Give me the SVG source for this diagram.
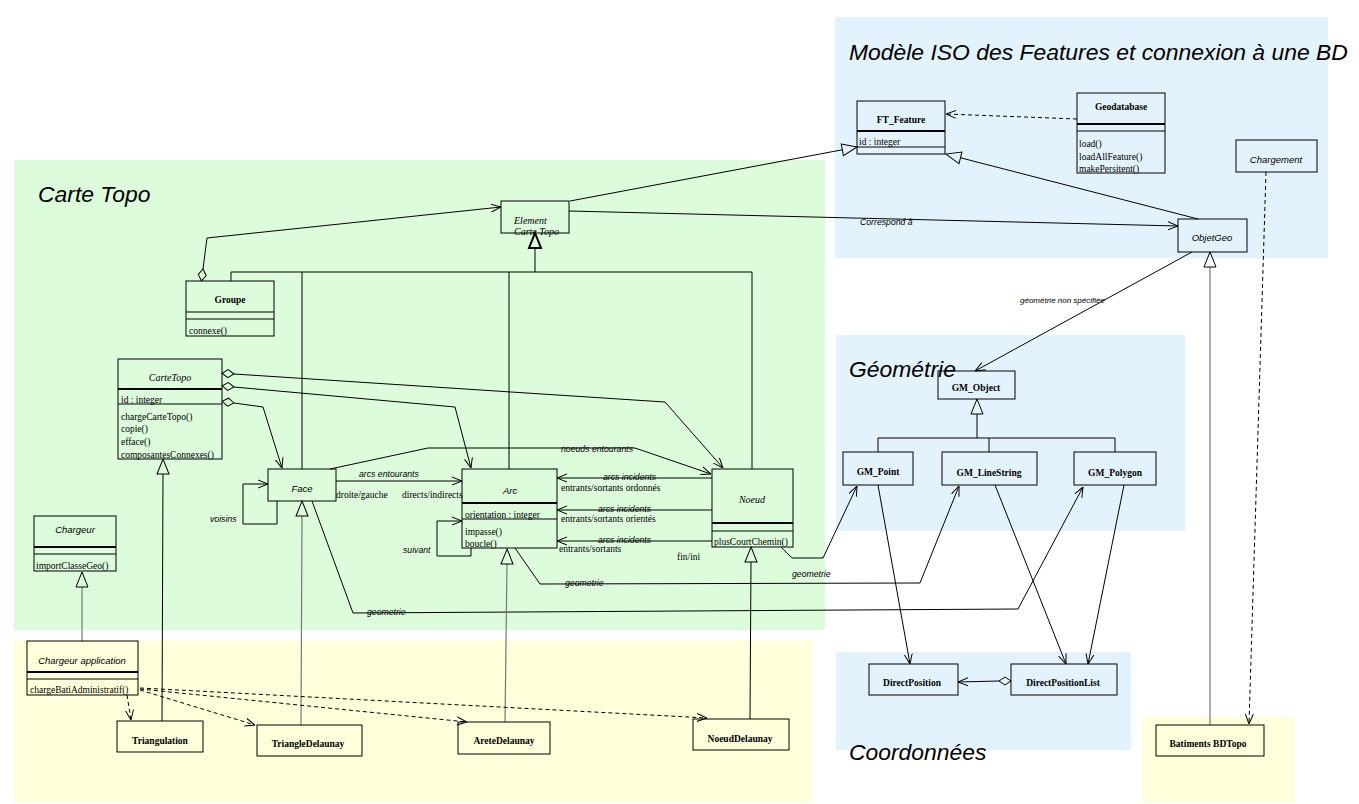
<svg xmlns="http://www.w3.org/2000/svg" width="1359" height="804" viewBox="0 0 1359 804">
<style>
.box{fill:none;stroke:#000;stroke-width:1}
.thk{stroke:#000;stroke-width:2}
.thn{stroke:#000;stroke-width:1}
.n{font-family:"Liberation Serif",serif;font-size:9.5px;font-weight:bold;text-anchor:middle;fill:#000}
.ni{font-family:"Liberation Serif",serif;font-size:10px;font-style:italic;text-anchor:middle;fill:#000}
.ns{font-family:"Liberation Sans",sans-serif;font-size:9.5px;font-style:italic;text-anchor:middle;fill:#000}
.t{font-family:"Liberation Serif",serif;font-size:9.5px;fill:#000}
.l{font-family:"Liberation Sans",sans-serif;font-size:8.7px;font-style:italic;fill:#000}
.title{font-family:"Liberation Sans",sans-serif;font-size:22.9px;font-style:italic;fill:#000}
.c{fill:none;stroke:#000;stroke-width:1}
.g{fill:none;stroke:#777;stroke-width:1.2}
.d{fill:none;stroke:#000;stroke-width:1;stroke-dasharray:4,3}
</style>
<defs>
<marker id="arr" viewBox="0 0 10 10" refX="10" refY="5" markerWidth="10" markerHeight="10" markerUnits="userSpaceOnUse" orient="auto">
<path d="M0,1 L10,5 L0,9" fill="none" stroke="#000" stroke-width="1"/>
</marker>
<marker id="gen" viewBox="-1 -8 18 16" refX="0" refY="0" markerWidth="18" markerHeight="16" markerUnits="userSpaceOnUse" orient="auto">
<path d="M0,-6 L15,0 L0,6 Z" fill="none" stroke="#000" stroke-width="1"/>
</marker>
<marker id="dia" viewBox="-14 -6 15 12" refX="0" refY="0" markerWidth="15" markerHeight="12" markerUnits="userSpaceOnUse" orient="auto">
<path d="M0,0 L-6,-4 L-12,0 L-6,4 Z" fill="none" stroke="#000" stroke-width="1"/>
</marker>
</defs>
<rect width="1359" height="804" fill="#fff"/>
<g id="regions">
<rect x="835" y="17" width="493" height="241" fill="#e3f3fd"/>
<rect x="14" y="160" width="811" height="470" fill="#dcfcdc"/>
<rect x="836" y="335" width="349" height="196" fill="#e3f3fd"/>
<rect x="836" y="652" width="295" height="98" fill="#e3f3fd"/>
<rect x="14" y="640" width="798" height="162" fill="#ffffdc"/>
<rect x="1142" y="717" width="153" height="85" fill="#ffffdc"/>
<text class="title" x="849" y="60">Modèle ISO des Features et connexion à une BD</text>
<text class="title" x="38" y="202">Carte Topo</text>
<text class="title" x="849" y="377">Géométrie</text>
<text class="title" x="849" y="760">Coordonnées</text>
</g>
<g id="connectors">
<path class="d" d="M1077,119 L946,114" marker-end="url(#arr)"/>
<path class="c" d="M1198,219 L960.5,157.8" marker-end="url(#gen)"/>
<path class="c" d="M570,201 L842.3,149.8" marker-end="url(#gen)"/>
<path class="c" d="M569,211 L1178,226" marker-end="url(#arr)"/>
<path class="d" d="M1266,172 L1249,724" marker-end="url(#arr)"/>
<path class="g" d="M1210,725 L1210,267" marker-end="url(#gen)"/>
<path class="c" d="M1192,252 L975,371" marker-end="url(#arr)"/>
<path class="c" d="M977,414 L977,438 M878,438 L1115,438 M878,438 L878,452 M989,438 L989,452 M1115,438 L1115,452"/>
<polygon points="977,399 971,414 983,414" fill="none" stroke="#000"/>
<path class="c" d="M878,485 L910,664" marker-end="url(#arr)"/>
<path class="c" d="M995,485 L1066,664" marker-end="url(#arr)"/>
<path class="c" d="M1124,485 L1088,664" marker-end="url(#arr)"/>
<path class="c" d="M999,681 L958,682" marker-end="url(#arr)"/>
<polygon points="1011,681 1005,677 999,681 1005,685" fill="none" stroke="#000"/>
<polygon points="535,233 529,248 541,248" fill="none" stroke="#000" stroke-width="2"/>
<path class="c" d="M535,248 L535,272" stroke-width="2.5"/>
<path class="c" d="M231,272 L752,272 M231,272 L231,281 M302,272 L302,469 M509,272 L509,469 M752,272 L752,469"/>
<path class="c" d="M203,269 L207,238 L501,207" marker-start="url(#dia)" marker-end="url(#arr)"/>
<path class="c" d="M234,374 L665,402 L723,468" marker-start="url(#dia)" marker-end="url(#arr)"/>
<path class="c" d="M234,387 L455,407 L471,468" marker-start="url(#dia)" marker-end="url(#arr)"/>
<path class="c" d="M234,403 L263,407 L282,468" marker-start="url(#dia)" marker-end="url(#arr)"/>
<path class="c" d="M277,501 L277,524 L243,524 L243,484 L268,484" marker-end="url(#arr)"/>
<path class="c" d="M336,481 L462,481" marker-end="url(#arr)"/>
<path class="c" d="M330,469 L428,448 L635,448 L711,474" marker-end="url(#arr)"/>
<path class="c" d="M471,548 L471,556 L437,556 L437,521 L462,521" marker-end="url(#arr)"/>
<path class="c" d="M712,478 L557,478" marker-end="url(#arr)"/>
<path class="c" d="M712,510 L557,510" marker-end="url(#arr)"/>
<path class="c" d="M712,541 L557,541" marker-end="url(#arr)"/>
<path class="c" d="M781,547 L792,558 L823,558 L857,486" marker-end="url(#arr)"/>
<path class="c" d="M515,548 L540,584 L920,583 L959,486" marker-end="url(#arr)"/>
<path class="c" d="M312,501 L353,613 L1018,609 L1083,487" marker-end="url(#arr)"/>
<path class="g" d="M82,641 L82,587" marker-end="url(#gen)"/>
<path class="c" d="M162,721 L163,474" marker-end="url(#gen)"/>
<path class="g" d="M301,725 L302,516" marker-end="url(#gen)"/>
<path class="g" d="M505,722 L507,564" marker-end="url(#gen)"/>
<path class="c" d="M750,719 L751,562" marker-end="url(#gen)"/>
<path class="d" d="M127,695 L131,720" marker-end="url(#arr)"/>
<path class="d" d="M140,690 L255,725" marker-end="url(#arr)"/>
<path class="d" d="M140,689 L467,722" marker-end="url(#arr)"/>
<path class="d" d="M140,688 L707,718" marker-end="url(#arr)"/>
<text class="l" x="860" y="225">Correspond à</text>
<text class="l" x="1020" y="303" style="font-size:8px">géométrie non spécifiée</text>
<text class="l" x="359" y="477">arcs  entourants</text>
<text class="t" x="336" y="498">droite/gauche</text>
<text class="t" x="402" y="498">directs/indirects</text>
<text class="l" x="210" y="522">voisins</text>
<text class="l" x="403" y="553">suivant</text>
<text class="l" x="561" y="452">noeuds entourants</text>
<text class="l" x="603" y="480">arcs incidents</text>
<text class="t" x="561" y="491">entrants/sortants ordonnés</text>
<text class="l" x="598" y="512">arcs incidents</text>
<text class="t" x="561" y="522">entrants/sortants orientés</text>
<text class="l" x="598" y="543">arcs incidents</text>
<text class="t" x="559" y="552">entrants/sortants</text>
<text class="t" x="677" y="560">fin/ini</text>
<text class="l" x="565" y="586">geometrie</text>
<text class="l" x="792" y="577">geometrie</text>
<text class="l" x="367" y="615">geometrie</text>
</g>
<g id="FT_Feature">
<rect class="box" x="857" y="101" width="88" height="53"/>
<line class="thk" x1="857" y1="131" x2="945" y2="131"/>
<line class="thn" x1="857" y1="147" x2="945" y2="147"/>
<text class="n" x="901" y="123">FT_Feature</text>
<text class="t" x="859" y="145">id : integer</text>
</g>
<g id="Geodatabase">
<rect class="box" x="1077" y="93" width="88" height="80"/>
<line class="thk" x1="1077" y1="124" x2="1165" y2="124"/>
<line class="thn" x1="1077" y1="131" x2="1165" y2="131"/>
<text class="n" x="1121" y="110">Geodatabase</text>
<text class="t" x="1079" y="147">load()</text>
<text class="t" x="1079" y="160">loadAllFeature()</text>
<text class="t" x="1079" y="172">makePersitent()</text>
</g>
<g id="Chargement">
<rect class="box" x="1236" y="140" width="81" height="32"/>
<text class="ns" x="1276" y="163">Chargement</text>
</g>
<g id="ObjetGeo">
<rect class="box" x="1178" y="219" width="69" height="33"/>
<text class="ns" x="1212" y="241">ObjetGeo</text>
</g>
<g id="ElementCarteTopo">
<rect class="box" x="501" y="201" width="68" height="32"/>
<text class="ni" x="514" y="224" style="text-anchor:start">Element</text>
<text class="ni" x="514" y="235" style="text-anchor:start">Carte Topo</text>
</g>
<g id="Groupe">
<rect class="box" x="186" y="281" width="88" height="55"/>
<line class="thn" x1="186" y1="312" x2="274" y2="312"/>
<line class="thn" x1="186" y1="319" x2="274" y2="319"/>
<text class="n" x="230" y="303">Groupe</text>
<text class="t" x="189" y="334">connexe()</text>
</g>
<g id="CarteTopo">
<rect class="box" x="118" y="359" width="104" height="100"/>
<line class="thk" x1="118" y1="389" x2="222" y2="389"/>
<line class="thn" x1="118" y1="404" x2="222" y2="404"/>
<text class="ni" x="170" y="381">CarteTopo</text>
<text class="t" x="121" y="403">id : integer</text>
<text class="t" x="121" y="420">chargeCarteTopo()</text>
<text class="t" x="121" y="432">copie()</text>
<text class="t" x="121" y="445">efface()</text>
<text class="t" x="121" y="458">composantesConnexes()</text>
</g>
<g id="Face">
<rect class="box" x="268" y="469" width="68" height="32"/>
<text class="ns" x="302" y="492">Face</text>
</g>
<g id="Arc">
<rect class="box" x="462" y="469" width="95" height="79"/>
<line class="thk" x1="462" y1="503" x2="557" y2="503"/>
<line class="thn" x1="462" y1="519" x2="557" y2="519"/>
<text class="ns" x="510" y="494">Arc</text>
<text class="t" x="465" y="518">orientation : integer</text>
<text class="t" x="465" y="535">impasse()</text>
<text class="t" x="465" y="547">boucle()</text>
</g>
<g id="Noeud">
<rect class="box" x="712" y="469" width="81" height="78"/>
<line class="thk" x1="712" y1="523" x2="793" y2="523"/>
<line class="thn" x1="712" y1="531" x2="793" y2="531"/>
<text class="ni" x="752" y="503">Noeud</text>
<text class="t" x="714" y="545">plusCourtChemin()</text>
</g>
<g id="Chargeur">
<rect class="box" x="34" y="516" width="82" height="55"/>
<line class="thk" x1="34" y1="547" x2="116" y2="547"/>
<line class="thn" x1="34" y1="554" x2="116" y2="554"/>
<text class="ns" x="75" y="533">Chargeur</text>
<text class="t" x="36" y="569">importClasseGeo()</text>
</g>
<g id="ChargeurApplication">
<rect class="box" x="27" y="641" width="111" height="54"/>
<line class="thk" x1="27" y1="672" x2="138" y2="672"/>
<line class="thn" x1="27" y1="679" x2="138" y2="679"/>
<text class="ns" x="82" y="664">Chargeur application</text>
<text class="t" x="30" y="693">chargeBatiAdministratif()</text>
</g>
<g id="Triangulation">
<rect class="box" x="117" y="721" width="86" height="31"/>
<text class="n" x="160" y="744">Triangulation</text>
</g>
<g id="TriangleDelaunay">
<rect class="box" x="257" y="725" width="105" height="31"/>
<text class="n" x="308" y="747">TriangleDelaunay</text>
</g>
<g id="AreteDelaunay">
<rect class="box" x="458" y="722" width="92" height="32"/>
<text class="n" x="504" y="744">AreteDelaunay</text>
</g>
<g id="NoeudDelaunay">
<rect class="box" x="693" y="719" width="96" height="31"/>
<text class="n" x="740" y="742">NoeudDelaunay</text>
</g>
<g id="GM_Object">
<rect class="box" x="938" y="371" width="77" height="28"/>
<text class="n" x="976" y="391">GM_Object</text>
</g>
<g id="GM_Point">
<rect class="box" x="843" y="452" width="70" height="33"/>
<text class="n" x="878" y="475">GM_Point</text>
</g>
<g id="GM_LineString">
<rect class="box" x="942" y="452" width="95" height="33"/>
<text class="n" x="989" y="476">GM_LineString</text>
</g>
<g id="GM_Polygon">
<rect class="box" x="1074" y="452" width="82" height="33"/>
<text class="n" x="1115" y="476">GM_Polygon</text>
</g>
<g id="DirectPosition">
<rect class="box" x="869" y="664" width="89" height="31"/>
<text class="n" x="912" y="686">DirectPosition</text>
</g>
<g id="DirectPositionList">
<rect class="box" x="1011" y="664" width="106" height="31"/>
<text class="n" x="1063" y="686">DirectPositionList</text>
</g>
<g id="BatimentsBDTopo">
<rect class="box" x="1156" y="725" width="108" height="31"/>
<text class="n" x="1208" y="747">Batiments BDTopo</text>
</g>
</svg>
